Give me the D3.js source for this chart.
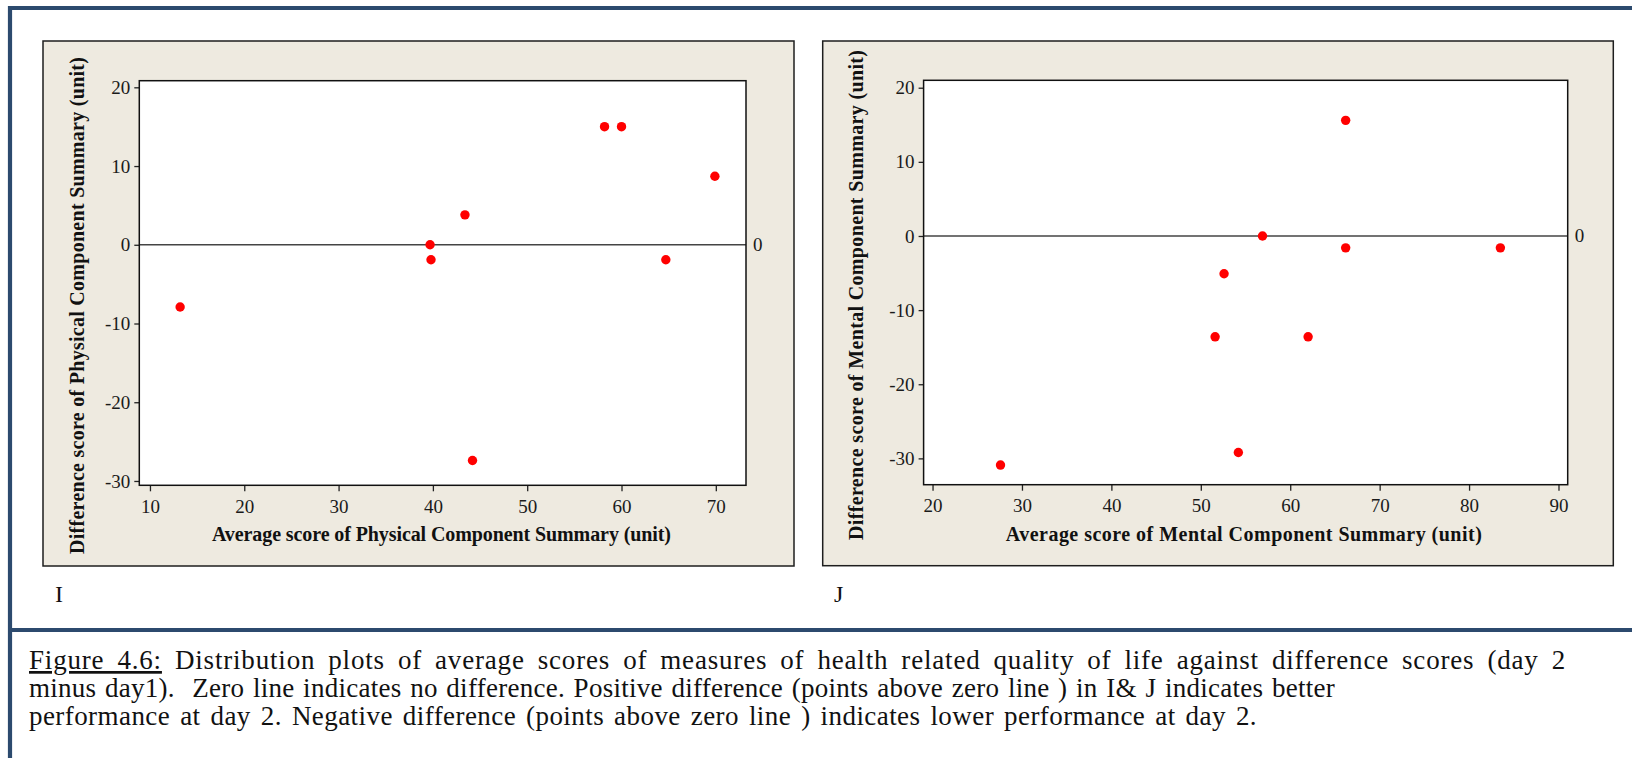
<!DOCTYPE html>
<html>
<head>
<meta charset="utf-8">
<script src="https://cdn.jsdelivr.net/npm/d3@7"></script>
<style>
	body { margin: 0; background: #fff; }
	svg { display: block; }
	.tick text { font-family: "Liberation Serif", "Times New Roman", serif; font-size: 19px; fill: #1a1a1a; }
	.tick line { stroke: #222; stroke-width: 1.3; }
	.title { font-family: "Liberation Serif", "Times New Roman", serif; font-size: 20px; font-weight: bold; fill: #111; }
	.caption { font-family: "Liberation Serif", "Times New Roman", serif; font-size: 27px; fill: #111; white-space: pre; }
</style>
</head>
<body>
<div id="chart"></div>
<script>
// values
var physAvg  = [13.2, 39.7, 39.8, 43.4, 44.2, 58.2, 60.0, 64.7, 69.9];
var physDiff = [-7.9, 0.0, -1.9, 3.8, -27.4, 15.0, 15.0, -1.9, 8.7];
var mentAvg  = [27.6, 51.6, 52.6, 54.2, 56.9, 62.0, 66.2, 66.2, 83.5];
var mentDiff = [-30.9, -13.6, -5.1, -29.2, 0.0, -13.6, 15.6, -1.6, -1.6];

var physXTicks = [10, 20, 30, 40, 50, 60, 70];
var mentXTicks = [20, 30, 40, 50, 60, 70, 80, 90];
var diffYTicks = [-30, -20, -10, 0, 10, 20];

var captionLines = [
	"Distribution plots of average scores of measures of health related quality of life against difference scores (day 2",
	"minus day1).  Zero line indicates no difference. Positive difference (points above zero line ) in I& J indicates better",
	"performance at day 2. Negative difference (points above zero line ) indicates lower performance at day 2."
];
var captionWidths = [1537, 1306, 1228];

var width = 1632, height = 758;
var frameColor = "#2c4a6e";

var svg = d3.select("#chart").append("svg")
	.attr("width", width)
	.attr("height", height);

// outer frame (runs off the right and bottom edges)
svg.append("path")
	.attr("d", "M10,758 V8 H1632 M8,630 H1632")
	.attr("fill", "none")
	.attr("stroke", frameColor)
	.attr("stroke-width", 4.2);

function drawPanel(p)
{
	var g = svg.append("g");

	g.append("rect")
		.attr("x", p.box[0]).attr("y", p.box[1])
		.attr("width", p.box[2] - p.box[0]).attr("height", p.box[3] - p.box[1])
		.attr("fill", "#eeeae0")
		.attr("stroke", "#1e1e1e")
		.attr("stroke-width", 1.5);

	var x = d3.scaleLinear().domain(p.xDomain).range([p.plot[0], p.plot[2]]);
	var y = d3.scaleLinear().domain(p.yDomain).range([p.plot[3], p.plot[1]]);

	g.append("rect")
		.attr("x", p.plot[0]).attr("y", p.plot[1])
		.attr("width", p.plot[2] - p.plot[0]).attr("height", p.plot[3] - p.plot[1])
		.attr("fill", "#fff");

	var xAxis = g.append("g")
		.attr("transform", "translate(0," + p.plot[3] + ")")
		.call(d3.axisBottom(x).tickValues(p.xTicks).tickSize(6).tickPadding(8).tickFormat(d3.format("d")));
	xAxis.select(".domain").remove();

	var yAxis = g.append("g")
		.attr("transform", "translate(" + p.plot[0] + ",0)")
		.call(d3.axisLeft(y).tickValues(diffYTicks).tickSize(5).tickPadding(4).tickFormat(function(d) { return d < 0 ? "-" + (-d) : d; }));
	yAxis.select(".domain").remove();

	// zero reference line with its label
	g.append("line")
		.attr("x1", p.plot[0]).attr("x2", p.plot[2])
		.attr("y1", y(0)).attr("y2", y(0))
		.attr("stroke", "#444")
		.attr("stroke-width", 1.4);
	g.append("text")
		.attr("x", p.plot[2] + 7)
		.attr("y", y(0))
		.attr("dy", "0.32em")
		.style("font-family", "'Liberation Serif', 'Times New Roman', serif")
		.style("font-size", "19px")
		.attr("fill", "#1a1a1a")
		.text("0");

	g.append("rect")
		.attr("x", p.plot[0]).attr("y", p.plot[1])
		.attr("width", p.plot[2] - p.plot[0]).attr("height", p.plot[3] - p.plot[1])
		.attr("fill", "none")
		.attr("stroke", "#111")
		.attr("stroke-width", 1.5);

	g.selectAll(".dot")
		.data(d3.range(p.xs.length))
		.enter().append("circle")
			.attr("class", "dot")
			.attr("cx", function(i) { return x(p.xs[i]); })
			.attr("cy", function(i) { return y(p.ys[i]); })
			.attr("r", 4.7)
			.attr("fill", "#ff0000");

	g.append("text")
		.attr("class", "title")
		.attr("x", p.xTitleX)
		.attr("y", 540.5)
		.attr("text-anchor", "middle")
		.attr("textLength", p.xTitleLen)
		.attr("lengthAdjust", "spacing")
		.text(p.xTitle);

	g.append("text")
		.attr("class", "title")
		.attr("transform", "translate(" + p.yTitleX + "," + p.yTitleY + ") rotate(-90)")
		.attr("text-anchor", "middle")
		.attr("textLength", p.yTitleLen)
		.attr("lengthAdjust", "spacing")
		.text(p.yTitle);

	g.append("text")
		.attr("x", p.labelX)
		.attr("y", 602)
		.style("font-family", "'Liberation Serif', 'Times New Roman', serif")
		.style("font-size", "24px")
		.attr("fill", "#111")
		.text(p.label);
}

drawPanel({
	box: [43, 41, 794, 566],
	plot: [139.3, 80.7, 746, 485.3],
	xDomain: [8.87, 73.2],
	yDomain: [-30.55, 20.84],
	xTicks: physXTicks,
	xs: physAvg,
	ys: physDiff,
	xTitle: "Average score of Physical Component Summary (unit)",
	xTitleX: 441.5,
	xTitleLen: 459,
	yTitle: "Difference score of Physical Component Summary (unit)",
	yTitleX: 84,
	yTitleY: 305.5,
	yTitleLen: 497,
	label: "I",
	labelX: 55
});

drawPanel({
	box: [822.7, 41, 1613.3, 565.7],
	plot: [923.6, 80.3, 1567.7, 484.7],
	xDomain: [19.0, 91.03],
	yDomain: [-33.55, 21.0],
	xTicks: mentXTicks,
	xs: mentAvg,
	ys: mentDiff,
	xTitle: "Average score of Mental Component Summary (unit)",
	xTitleX: 1243.8,
	xTitleLen: 476,
	yTitle: "Difference score of Mental Component Summary (unit)",
	yTitleX: 863,
	yTitleY: 295,
	yTitleLen: 490,
	label: "J",
	labelX: 834
});

// caption under the separator; spread each line (half letters, half word gaps)
// so it ends where the original line does
captionLines.forEach(function(line, i) {
	var t = svg.append("text")
		.attr("class", "caption")
		.attr("x", 29)
		.attr("y", 669 + i * 28);
	if (i === 0) {
		t.append("tspan").style("text-decoration", "underline").text("Figure 4.6:");
		t.append("tspan").text(" " + line);
	} else {
		t.text(line);
	}
	var full = (i === 0 ? "Figure 4.6: " : "") + line;
	var gaps = full.split(" ").length - 1;
	var extra = Math.max(0, captionWidths[i] - t.node().getComputedTextLength());
	t.style("letter-spacing", (extra * 0.5 / full.length) + "px")
		.style("word-spacing", (extra * 0.5 / gaps) + "px");
});
</script>
</body>
</html>
